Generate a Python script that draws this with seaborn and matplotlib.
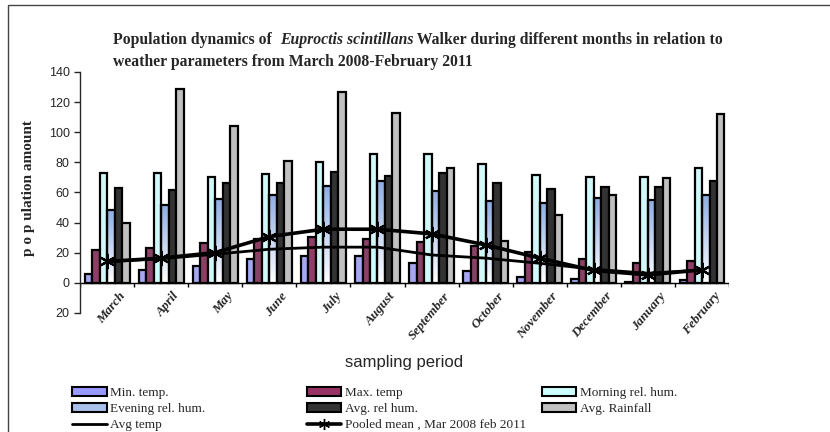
import numpy as np
import pandas as pd
import matplotlib
matplotlib.use("Agg")
import matplotlib.pyplot as plt
import matplotlib.transforms as mtransforms
from matplotlib.colors import LinearSegmentedColormap
import seaborn as sns
from matplotlib.patches import Patch, Rectangle
from matplotlib.lines import Line2D

sns.set_style("white")
plt.rcParams["font.family"] = ["Liberation Sans", "DejaVu Sans"]

# --- datos ---
months = ["March", "April", "May", "June", "July", "August", "September",
          "October", "November", "December", "January", "February"]
min_temp = [6, 8.5, 11, 15.5, 18, 18, 13.3, 8, 4, 2.4, 0.5, 2]
max_temp = [22, 23.3, 26.6, 28.8, 30.6, 29, 27.3, 24.4, 20.6, 15.5, 12.9, 14.6]
morning_hum = [73, 73, 70.5, 72.3, 79.9, 85.6, 85.6, 78.8, 71.7, 70.5, 70.5, 76.5]
evening_hum = [48.4, 51.7, 55.5, 58, 64.3, 67.4, 61.2, 54, 53.3, 56, 55, 58]
avg_hum = [63, 61.7, 66.5, 66.5, 73.9, 70.8, 73.2, 66.5, 62, 63.5, 63.5, 67.4]
rainfall = [40, 129, 104.3, 81, 126.5, 112.7, 76.5, 28, 44.8, 58, 69.9, 112.3]
avg_temp = [14, 16, 19, 22.3, 23.7, 23.7, 18.5, 16.4, 13, 9, 6.4, 8.6]
pooled_mean = [14.2, 16.4, 20.1, 30.7, 35.6, 35.6, 32.5, 25.2, 16.4, 8.2, 5.3, 8.6]
y_ticks = [-20, 0, 20, 40, 60, 80, 100, 120, 140]
y_tick_labels = ["20", "0", "20", "40", "60", "80", "100", "120", "140"]

series = ["Min. temp.", "Max. temp", "Morning rel. hum.",
          "Evening rel. hum.", "Avg. rel hum.", "Avg. Rainfall"]
colores = ["#9999FF", "#993366", "#CCFFFF", "#A8C0EA", "#333333", "#C0C0C0"]

df = pd.DataFrame({
    "mes": months * 6,
    "serie": np.repeat(series, 12),
    "valor": min_temp + max_temp + morning_hum + evening_hum + avg_hum + rainfall,
})

fig = plt.figure(figsize=(8.3, 4.32), dpi=100)
ax = fig.add_axes([0.0964, 0.2755, 0.782, 0.558])

sns.barplot(data=df, x="mes", y="valor", hue="serie", order=months,
            hue_order=series, palette=colores, edgecolor="black",
            linewidth=1.6, width=0.83, gap=0, legend=False, ax=ax)

# degradado para "Evening rel. hum." (como en Excel)
degradado = LinearSegmentedColormap.from_list("deg", ["#FFFFFF", "#8FAEE3"])
grad = np.linspace(0, 1, 100).reshape(-1, 1)
for barra in ax.containers[3]:
    x0, y0 = barra.get_x(), barra.get_y()
    w, h = barra.get_width(), barra.get_height()
    ax.imshow(grad, extent=(x0, x0 + w, y0, y0 + h), origin="lower",
              cmap=degradado, aspect="auto", zorder=barra.get_zorder() - 0.01)
    barra.set_facecolor("none")

x = np.arange(len(months))
ax.plot(x, avg_temp, color="black", lw=2)
ax.plot(x, pooled_mean, color="black", lw=2.6, marker=(6, 2, 0),
        markersize=11, markeredgewidth=1.6)

ax.set_ylim(-20, 140)
ax.set_xlim(-0.5, 11.5)
ax.set_yticks(y_ticks)
ax.set_yticklabels(y_tick_labels, fontsize=9)
ax.tick_params(axis="y", direction="out", length=4, width=1, left=True)
ax.tick_params(axis="x", length=0, pad=0)
for s in ["top", "right", "bottom"]:
    ax.spines[s].set_visible(False)
ax.spines["left"].set_linewidth(1)

# linea del cero y marcas entre meses
ax.axhline(0, color="black", lw=1)
ax.vlines(np.arange(13) - 0.5, -2.5, 0, color="black", lw=1)

ax.set_xticks(x)
ax.set_xticklabels(months, rotation=50, ha="right", va="center",
                   rotation_mode="anchor", family="Liberation Serif",
                   fontstyle="italic", fontweight="bold", fontsize=9.5)
desplaza = mtransforms.ScaledTranslation(0.16, 0.19, fig.dpi_scale_trans)
for lab in ax.get_xticklabels():
    lab.set_transform(lab.get_transform() + desplaza)
ax.set_xlabel("sampling period", fontsize=12)
ax.xaxis.set_label_coords(0.5, -0.175)
ax.set_ylabel("p o p ulation amount", family="Liberation Serif",
              fontweight="bold", fontsize=11)
ax.yaxis.set_label_coords(-0.069, 0.52)

# titulo con el nombre de la especie en cursiva
r = fig.canvas.get_renderer()
estilo = dict(family="Liberation Serif", fontweight="bold", fontsize=11.3,
              va="center")
y1 = 0.907
pos = 0.136
for trozo, cursiva in [("Population dynamics of  ", False),
                       ("Euproctis scintillans", True),
                       (" Walker during different months in relation to", False)]:
    t = fig.text(pos, y1, trozo, fontstyle="italic" if cursiva else "normal",
                 **estilo)
    pos = t.get_window_extent(r).x1 / fig.bbox.width
fig.text(0.136, 0.856, "weather parameters from March 2008-February 2011",
         **estilo)

# marco exterior
fig.patches.append(Rectangle((0.01, -0.05), 1.2, 1.038, transform=fig.transFigure,
                             fill=False, edgecolor="#444444", lw=1))

# leyenda en tres columnas
handles = [Patch(facecolor=c, edgecolor="black", lw=1.5) for c in colores]
handles += [Line2D([], [], color="black", lw=2),
            Line2D([], [], color="black", lw=2.6, marker=(6, 2, 0),
                   markersize=8)]
names = series + ["Avg temp", "Pooled mean , Mar 2008 feb 2011"]
cols = [[0, 3, 6], [1, 4, 7], [2, 5]]
xs = [0.087, 0.37, 0.653]
for xi, idx in zip(xs, cols):
    fig.legend([handles[i] for i in idx], [names[i] for i in idx],
               loc="upper left", bbox_to_anchor=(xi, 0.104), frameon=False,
               prop={"family": "Liberation Serif", "size": 9.5},
               handlelength=2.6, handleheight=0.6, labelspacing=0.3,
               handletextpad=0.3, borderpad=0, borderaxespad=0)

fig.savefig("out.png", dpi=100)
